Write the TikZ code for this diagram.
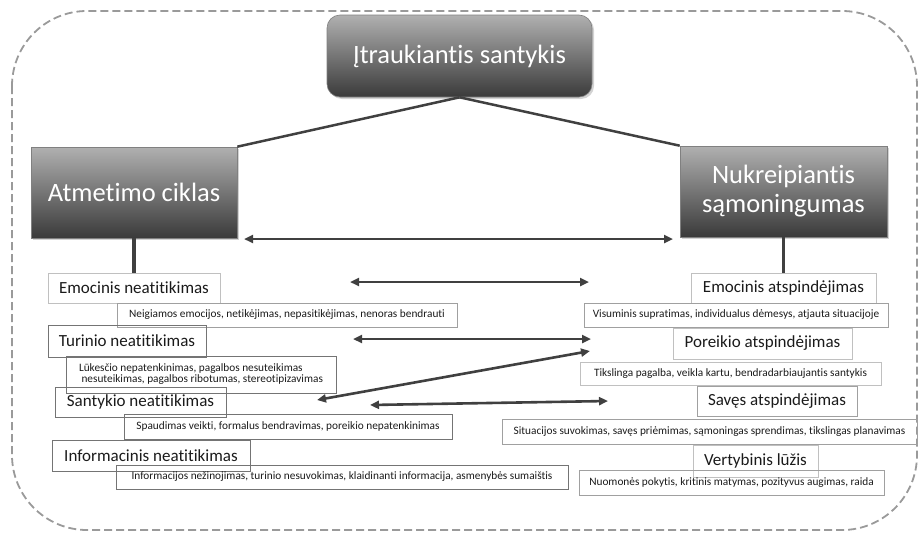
\documentclass[tikz,border=0pt]{standalone}
\usepackage{fontspec}
\setmainfont{Carlito}[Ligatures=NoCommon]
\usetikzlibrary{arrows.meta,shadows}
\definecolor{ink}{HTML}{404040}
\definecolor{hdtop}{HTML}{B0B0B0}
\definecolor{hdbot}{HTML}{3A3A3A}
\definecolor{frame}{HTML}{9A9A9A}
\definecolor{edgelight}{HTML}{C0C0C0}
\definecolor{edgemid}{HTML}{A0A0A0}
\definecolor{edgedark}{HTML}{747474}
\definecolor{txt}{HTML}{1A1A1A}
\begin{document}
\begin{tikzpicture}[x=1pt,y=-1pt,
  sz/.style 2 args={minimum width=#1pt, minimum height=#2pt},
  header/.style={draw=gray, line width=0.6pt, top color=hdtop, bottom color=hdbot,
    text=white, inner sep=0pt, align=center,
    font=\fontsize{26.5}{30}\selectfont,
    drop shadow={opacity=0.35, shadow xshift=2pt, shadow yshift=-2pt}},
  labelbox/.style={draw=#1, line width=0.9pt, inner sep=0pt, text=txt,
    font=\fontsize{17}{20}\selectfont},
  detailbox/.style={draw=#1, line width=0.9pt, inner sep=0pt, text=txt,
    font=\fontsize{11.3}{11}\selectfont},
  link/.style={draw=ink, line width=2.5pt},
  stem/.style={draw=ink, line width=3.5pt},
  twoway/.style={draw=ink, line width=2.6pt,
    {Triangle[length=9pt,width=8pt]}-{Triangle[length=9pt,width=8pt]}}
]
\useasboundingbox (0,0) rectangle (920,533);

% outer dashed frame
\draw[frame, line width=1.8pt, dash pattern=on 8pt off 4pt, rounded corners=75pt]
  (12,11) rectangle (917,530);

% header boxes
\node[header, sz={265}{82}, rounded corners=13pt] (top) at (459.5,56) {Įtraukiantis santykis};
\node[header, sz={206}{91}] (atm) at (134,192.5) {Atmetimo ciklas};
\node[header, sz={207}{91}] (nuk) at (783.5,191.5) {Nukreipiantis\\[-1pt]sąmoningumas};

% left column
\node[labelbox=edgelight, sz={172}{30}] (en) at (134,288) {Emocinis neatitikimas};
\node[detailbox=edgemid, sz={340}{24}] (d1) at (287,315) {Neigiamos emocijos, netikėjimas, nepasitikėjimas, nenoras bendrauti};
\node[labelbox=edgedark, sz={158}{32}] (tn) at (127,341) {Turinio neatitikimas};
\node[detailbox=edgedark, sz={270}{37}, align=left] (d2) at (201,374.5) {Lūkesčio nepatenkinimas, pagalbos nesuteikimas\\\hspace{2.5pt}nesuteikimas, pagalbos ribotumas, stereotipizavimas};
\node[labelbox=edgedark, sz={171}{30}] (sn) at (140.5,402) {Santykio neatitikimas};
\node[detailbox=edgedark, sz={328}{25}] (d3) at (288,426.5) {Spaudimas veikti, formalus bendravimas, poreikio nepatenkinimas};
\node[labelbox=edgedark, sz={198}{31}] (inf) at (151,455.5) {Informacinis neatitikimas};
\node[detailbox=edgedark, sz={452}{24}] (d4) at (342,477) {Informacijos nežinojimas, turinio nesuvokimas, klaidinanti informacija, asmenybės sumaištis};

% right column
\node[labelbox=edgelight, sz={185}{30}] (ea) at (783.5,288) {Emocinis atspindėjimas};
\node[detailbox=edgemid, sz={304}{24}] (r1) at (736,315) {Visuminis supratimas, individualus dėmesys, atjauta situacijoje};
\node[labelbox=edgelight, sz={179}{31}] (pa) at (762.5,343.5) {Poreikio atspindėjimas};
\node[detailbox=edgelight, sz={301}{23}] (r2) at (730.5,373.5) {Tikslinga pagalba, veikla kartu, bendradarbiaujantis santykis};
\node[labelbox=edgemid, sz={160}{30}] (sa) at (777,401) {Savęs atspindėjimas};
\node[detailbox=edgemid, sz={415}{25}] (r3) at (709.5,431.5) {Situacijos suvokimas, savęs priėmimas, sąmoningas sprendimas, tikslingas planavimas};
\node[labelbox=edgelight, sz={125}{32}] (va) at (755.5,461) {Vertybinis lūžis};
\node[detailbox=edgemid, sz={305}{25}] (r4) at (731.5,482.5) {Nuomonės pokytis, kritinis matymas, pozityvus augimas, raida};

% links from the top box
\draw[link] (top.south) -- (atm.north east);
\draw[link] (top.south) -- (nuk.north west);
\draw[stem] (atm.south) -- (en.north);
\draw[stem] (nuk.south) -- (ea.north);

% free ends of the two-way arrows
\coordinate (a0l) at (244,239);  \coordinate (a0r) at (673,239);
\coordinate (a1l) at (350,282);  \coordinate (a1r) at (589,282);
\coordinate (a2l) at (353,339);  \coordinate (a2r) at (591,339);
\coordinate (a3l) at (317,400);  \coordinate (a3r) at (590,351);
\coordinate (a4l) at (370,405);  \coordinate (a4r) at (608,401);

\draw[twoway] (a0l) -- (a0r);
\draw[twoway] (a1l) -- (a1r);
\draw[twoway] (a2l) -- (a2r);
\draw[twoway] (a3l) -- (a3r);
\draw[twoway] (a4l) -- (a4r);
\end{tikzpicture}
\end{document}
